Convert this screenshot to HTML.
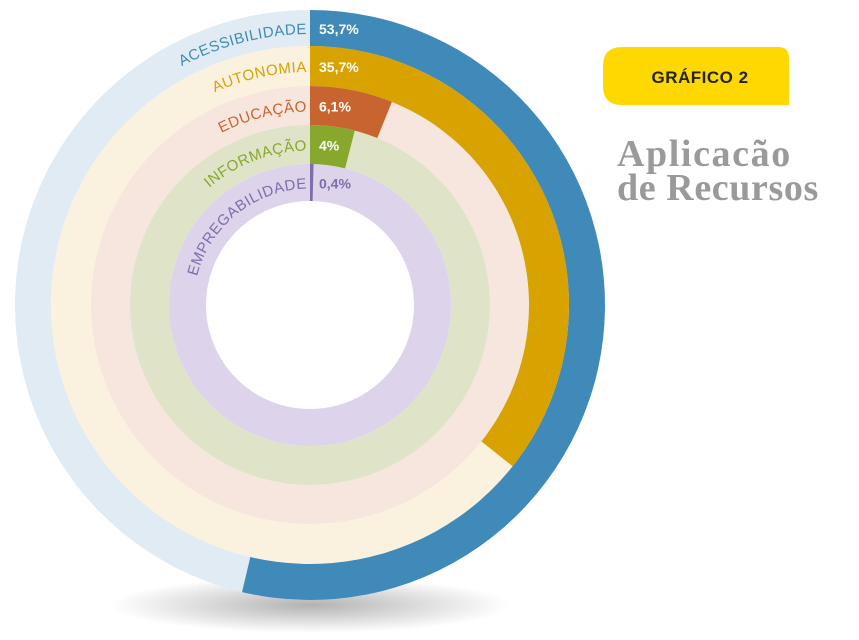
<!DOCTYPE html>
<html><head><meta charset="utf-8">
<style>
html,body{margin:0;padding:0;background:#fff;width:859px;height:640px;overflow:hidden}
svg{display:block;font-family:"Liberation Sans",sans-serif}
</style></head>
<body>
<svg width="859" height="640" viewBox="0 0 859 640">
<defs>
<radialGradient id="sh" cx="50%" cy="50%" r="50%">
<stop offset="0" stop-color="#000" stop-opacity="0.3"/>
<stop offset="1" stop-color="#000" stop-opacity="0"/>
</radialGradient>
</defs>
<ellipse cx="310" cy="605" rx="200" ry="28" fill="url(#sh)"/>
<g id="chart"></g>
<g>
<path d="M622,47 H778 Q789,47 789,58 V105 H622 Q603,105 603,86 V66 Q603,47 622,47 Z" fill="#fed800"/>
<text x="700" y="83" text-anchor="middle" font-size="17" font-weight="bold" letter-spacing="0.5" fill="#222">GRÁFICO 2</text>
</g>
<text x="617" y="166" font-family="Liberation Serif,serif" font-size="38" font-weight="bold" letter-spacing="1.6" fill="#9a9a9a">Aplicacão</text>
<text x="617" y="200" font-family="Liberation Serif,serif" font-size="38" font-weight="bold" letter-spacing="0.6" fill="#9a9a9a">de Recursos</text>
</svg>
<script>
const categories=["ACESSIBILIDADE","AUTONOMIA","EDUCAÇÃO","INFORMAÇÃO","EMPREGABILIDADE"];
const values=[53.7,35.7,6.1,4,0.4];
const valueLabels=["53,7%","35,7%","6,1%","4%","0,4%"];
const darkColors=["#3f8ab9","#d8a200","#c8642f","#87a82c","#7d6eab"];
const lightColors=["#e1ebf4","#fbf1df","#f6e6de","#dfe4c8","#ddd3ea"];
const cx=310,cy=305;
const radii=[[259,295],[219,259],[180,219],[141,180],[104,141]];
const ns="http://www.w3.org/2000/svg";
const g=document.getElementById('chart');
function pt(r,a){const t=a*Math.PI/180;return [cx+r*Math.sin(t),cy-r*Math.cos(t)];}
function arc(r0,r1,a0,a1){
 if(a1-a0>=359.99)a1=a0+359.99;
 const large=(a1-a0)>180?1:0;
 const p0=pt(r1,a0),p1=pt(r1,a1),p2=pt(r0,a1),p3=pt(r0,a0);
 return `M${p0[0]},${p0[1]} A${r1},${r1} 0 ${large} 1 ${p1[0]},${p1[1]} L${p2[0]},${p2[1]} A${r0},${r0} 0 ${large} 0 ${p3[0]},${p3[1]} Z`;
}
function scale(v){return v/100*360;}
categories.forEach((c,i)=>{
 const [r0,r1]=radii[i];
 const bg=document.createElementNS(ns,'path');
 bg.setAttribute('d',arc(r0,r1,0,360));
 bg.setAttribute('fill',lightColors[i]);
 
 
 g.appendChild(bg);
});
categories.forEach((c,i)=>{
 const [r0,r1]=radii[i];
 const p=document.createElementNS(ns,'path');
 p.setAttribute('d',arc(r0,r1,0,Math.max(scale(values[i]),0.6)));
 p.setAttribute('fill',darkColors[i]);
 
 
 g.appendChild(p);
 const rm=(r0+r1)/2-6;
 const id='lp'+i;
 const path=document.createElementNS(ns,'path');
 path.setAttribute('id',id);
 path.setAttribute('d',`M${cx-rm},${cy} A${rm},${rm} 0 0 1 ${cx-3},${cy-rm}`);
 path.setAttribute('fill','none');
 g.appendChild(path);
 const t=document.createElementNS(ns,'text');
 t.setAttribute('font-size','15');
 t.setAttribute('letter-spacing','0.5');
 t.setAttribute('fill',darkColors[i]);
 t.setAttribute('text-anchor','end');
 
 
 const tp=document.createElementNS(ns,'textPath');
 tp.setAttribute('href','#'+id);
 tp.setAttribute('startOffset','100%');
 tp.textContent=c;
 t.appendChild(tp);
 g.appendChild(t);
 const v=document.createElementNS(ns,'text');
 v.setAttribute('x',cx+9);
 v.setAttribute('y',cy-(r0+r1)/2+6);
 v.setAttribute('font-size','14');
 v.setAttribute('font-weight','bold');
 v.setAttribute('fill',values[i]<2?darkColors[i]:'#fff');
 
 
 v.textContent=valueLabels[i];
 g.appendChild(v);
});
</script>
</body></html>
